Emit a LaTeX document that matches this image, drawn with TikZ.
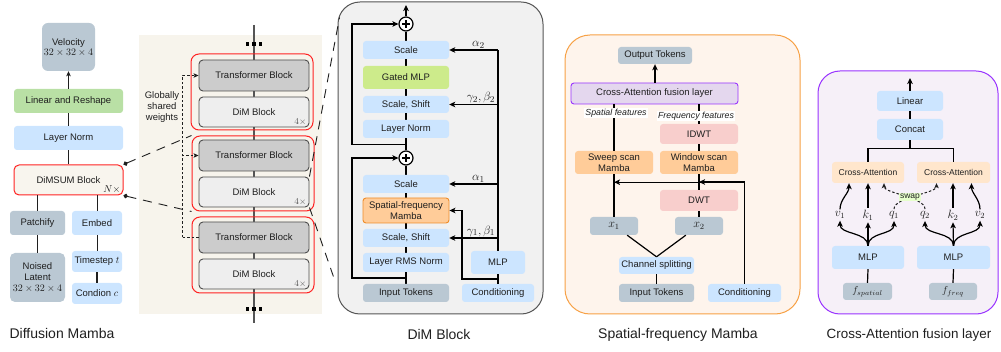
\documentclass[tikz,border=0pt]{standalone}
\usepackage[no-math]{fontspec}
\setmainfont{Liberation Sans}
\usetikzlibrary{arrows.meta,calc}
\pgfdeclarelayer{back}
\pgfdeclarelayer{bg}
\pgfsetlayers{back,bg,main}
\definecolor{lblue}{HTML}{CCE5FF}
\definecolor{gblue}{HTML}{BAC8D3}
\definecolor{lgreen}{HTML}{B9E0A5}
\definecolor{lime}{HTML}{CDEB8B}
\definecolor{orng}{HTML}{FFCC99}
\definecolor{orngd}{HTML}{F08C28}
\definecolor{pinkc}{HTML}{F8CECC}
\definecolor{peach}{HTML}{FFE6CC}
\definecolor{lav}{HTML}{E4D7EE}
\definecolor{purp}{HTML}{9933FF}
\definecolor{cream}{HTML}{F7F4EC}
\definecolor{cream2}{HTML}{F8F5EE}
\definecolor{redb}{HTML}{FF2222}
\definecolor{p3f}{HTML}{F1F1F1}
\definecolor{p3b}{HTML}{555555}
\definecolor{p4f}{HTML}{FEF4EC}
\definecolor{p4b}{HTML}{F7A145}
\definecolor{p5f}{HTML}{F6F0F8}
\definecolor{tbf}{HTML}{CCCCCC}
\definecolor{dmf}{HTML}{EEEEEE}
\definecolor{tbb}{HTML}{4D4D4D}
\definecolor{txt}{HTML}{1F1F1F}
\definecolor{gry}{HTML}{555555}
\definecolor{swapg}{HTML}{E6FFCC}
\newcommand{\bfnt}{\fontsize{9.5}{11}\selectfont}
\newcommand{\cafnt}{\fontsize{8.5}{10}\selectfont}
\newcommand{\ttlfnt}{\fontsize{14}{16}\selectfont}
\newcommand{\mfnt}{\fontsize{10}{12}\selectfont}
\newcommand{\vfnt}{\fontsize{12}{14}\selectfont}
\newcommand{\afnt}{\fontsize{13}{15}\selectfont}
\newcommand{\smfnt}{\fontsize{9.5}{11}\selectfont}
\newcommand{\mybox}[7]{\node[#6, minimum width={(#4-#2)*1pt}, minimum height={(#5-#3)*1pt}] (#1) at ({(#2+#4)/2},{(#3+#5)/2}) {#7};}
\tikzset{
  bx/.style={rounded corners=3pt, inner sep=1pt, align=center, font=\bfnt, text=txt},
  lb/.style={bx, fill=lblue},
  gb/.style={bx, fill=gblue},
  tbs/.style={bx, fill=tbf, draw=tbb, line width=0.9pt, rounded corners=4pt},
  dms/.style={bx, fill=dmf, draw=tbb, line width=0.9pt, rounded corners=4pt},
  grp/.style={draw=redb, line width=1pt, rounded corners=8pt},
  ln/.style={line width=1.2pt, draw=black},
  lnt/.style={line width=1pt, draw=txt},
  arr/.style={-{Stealth[length=6pt,width=5.5pt,inset=1.5pt]}},
  arrs/.style={-{Stealth[length=5pt,width=4.5pt,inset=1.2pt]}},
  ldash/.style={line width=0.9pt, draw=txt, dash pattern=on 9pt off 7pt},
  sdash/.style={line width=0.9pt, draw=txt, dash pattern=on 2.5pt off 2pt},
  plus/.style={circle, draw=black, fill=white, line width=1.2pt, minimum size=14pt, inner sep=0pt,
    path picture={\draw[line width=1.2pt] ([xshift=-3.6pt]path picture bounding box.center) -- ([xshift=3.6pt]path picture bounding box.center) ([yshift=-3.6pt]path picture bounding box.center) -- ([yshift=3.6pt]path picture bounding box.center);}},
  flab/.style={font=\fontsize{8.8}{10}\selectfont\itshape, fill=white, inner sep=1pt, text=txt},
  vl/.style={font=\vfnt, inner sep=2pt, text=txt},
  al/.style={font=\afnt, inner sep=1pt, text=txt},
  ttl/.style={font=\ttlfnt, text=txt},
}
\begin{document}
\begin{tikzpicture}[x=1pt,y=-1pt]
\useasboundingbox (0,0) rectangle (1001,352);
% ---------- panel backgrounds
\begin{pgfonlayer}{back}
\mybox{bg2}{139}{35}{322}{314}{fill=cream}{}
\mybox{p3}{338}{2}{543}{314}{draw=p3b, fill=p3f, rounded corners=22pt, line width=1pt}{}
\mybox{p4}{565}{35}{800}{314}{draw=p4b, fill=p4f, rounded corners=25pt, line width=1pt}{}
\mybox{p5}{818}{71}{998}{314}{draw=purp, fill=p5f, rounded corners=22pt, line width=1pt}{}
\end{pgfonlayer}
% ---------- panel 1: Diffusion Mamba
\mybox{vel}{42}{23}{95}{71}{gb, rounded corners=6pt}{Velocity\\[-1pt]{\mfnt$32\times32\times4$}}
\mybox{lr}{14}{89}{123}{113}{bx, fill=lgreen}{Linear and Reshape}
\mybox{lnA}{14}{126}{123}{150}{lb}{Layer Norm}
\mybox{dsum}{14}{165}{123}{195}{bx, fill=cream2, draw=redb, line width=1pt, rounded corners=5pt}{DiMSUM Block}
\node[anchor=south east, inner sep=0pt, font=\mfnt, text=txt] (nx) at ([shift={(-3,-2)}]dsum.south east) {$N\times$};
\mybox{patch}{10}{211}{65}{235}{gb}{Patchify}
\mybox{emb}{72}{211}{122}{235}{lb}{Embed}
\mybox{nl}{10}{253}{65}{302}{gb, rounded corners=5pt}{Noised\\Latent\\{\mfnt$32\times32\times4$}}
\mybox{ts}{72}{251}{122}{272}{lb}{Timestep {\mfnt$t$}}
\mybox{cd}{72}{283}{122}{304}{lb}{Condion {\mfnt$c$}}
\draw[lnt,arrs] (lr.north) -- (vel.south);
\draw[lnt] (lnA.north) -- (lr.south);
\draw[lnt] (dsum.north) -- (lnA.south);
\draw[lnt] (patch.north) -- (patch.north |- dsum.south);
\draw[lnt] (emb.north) -- (emb.north |- dsum.south);
\draw[lnt] (patch.south) -- (nl.north);
\draw[lnt] (emb.south) -- (ts.north);
\draw[lnt, line width=1.7pt] (ts.south) -- (cd.north);
\node[ttl] (t1) at (62,333) {Diffusion Mamba};
% ---------- panel 2
\coordinate (c2t) at (254,25);
\coordinate (c2b) at (254,323);
\begin{pgfonlayer}{bg}
\draw[line width=1.1pt, draw=gry] (c2t) -- (c2b);
\end{pgfonlayer}
\foreach \dx in {-6.5,0,6.5} {\fill[black] (254+\dx-1.8,42.2) rectangle ++(3.6,3.6); \fill[black] (254+\dx-1.8,307.2) rectangle ++(3.6,3.6);}
\mybox{g1}{191}{54}{313}{130}{grp}{}
\mybox{g2}{192}{136}{314}{211}{grp}{}
\mybox{g3}{192}{217}{314}{293}{grp}{}
\mybox{tb1}{199}{60}{309}{91}{tbs}{Transformer Block}
\mybox{dm1}{199}{97}{309}{127}{dms}{DiM Block}
\mybox{tb2}{199}{140}{309}{171}{tbs}{Transformer Block}
\mybox{dm2}{199}{177}{309}{207}{dms}{DiM Block}
\mybox{tb3}{199}{222}{309}{253}{tbs}{Transformer Block}
\mybox{dm3}{199}{259}{309}{289}{dms}{DiM Block}
\foreach \d in {dm1,dm2,dm3}{\node[anchor=south east, inner sep=0pt, font=\smfnt, text=gry] at ([shift={(-3,-2)}]\d.south east) {$4\times$};}
\coordinate (gs) at ([xshift=-16pt]tb3.west);
\draw[sdash] (tb3.west) -- (gs);
\draw[sdash,arrs] (gs) |- (tb1.west);
\draw[sdash,arrs] (gs) |- (tb2.west);
\node[font=\bfnt, align=center, text=txt, inner sep=0pt] (gsw) at (162,107) {Globally\\shared\\weights};
\draw[ldash, {Circle[length=4.5pt]}-] (dsum.north east) -- (g2.north west);
\draw[ldash, {Circle[length=4.5pt]}-] (dsum.south east) -- (g2.south west);
\draw[ldash] (dm2.north east) -- ($(p3.north west)+(2,16)$);
\draw[ldash] (dm2.south east) -- ($(p3.south west)+(-2,-32)$);
% ---------- panel 3: DiM Block
\node[plus] (pl1) at (406,24) {};
\mybox{sc2}{363}{41}{449}{59}{lb}{Scale}
\mybox{gm}{363}{66}{449}{89}{bx, fill=lime}{Gated MLP}
\mybox{ss2}{363}{96}{449}{113}{lb}{Scale, Shift}
\mybox{lnB}{363}{120}{449}{138}{lb}{Layer Norm}
\node[plus] (pl2) at (406,158) {};
\mybox{sc1}{363}{175}{449}{193}{lb}{Scale}
\mybox{sfm}{363}{198}{449}{223}{bx, fill=orng, draw=orngd, line width=0.9pt}{Spatial-frequency\\Mamba}
\mybox{ss1}{363}{229}{449}{247}{lb}{Scale, Shift}
\mybox{rms}{363}{253}{449}{272}{lb}{Layer RMS Norm}
\mybox{in3}{363}{284}{449}{302}{gb}{Input Tokens}
\mybox{mlp3}{471}{251}{525}{274}{lb}{MLP}
\mybox{cn3}{462}{284}{534}{302}{lb}{Conditioning}
\coordinate (top3) at (406,5);
\begin{pgfonlayer}{bg}
\draw[ln] (in3.north) -- (pl2.south);
\draw[ln] (pl2.north) -- (pl1.south);
\end{pgfonlayer}
\draw[ln,arr] (pl1.north) -- (top3);
\coordinate (k1) at ($(in3.north)!0.5!(rms.south)$);
\draw[ln,arr] (k1) -- ++(-54,0) |- (pl2.west);
\coordinate (k2) at ($(lnB.south)!0.5!(pl2.north)$);
\draw[ln,arr] (k2) -- ++(-54,0) |- (pl1.west);
\coordinate (r2) at (mlp3.north |- sc2.east);
\draw[ln] (mlp3.north) -- (r2);
\draw[ln,arr] (r2) -- node[above, pos=0.4, al] (la2) {$\alpha_2$} (sc2.east);
\draw[ln,arr] (mlp3.north |- ss2.east) -- node[above, pos=0.35, al] (lg2) {$\gamma_2,\beta_2$} (ss2.east);
\draw[ln,arr] (mlp3.north |- sc1.east) -- node[above, pos=0.4, al] (la1) {$\alpha_1$} (sc1.east);
\draw[ln,arr] (mlp3.north |- ss1.east) -- node[above, pos=0.35, al] (lg1) {$\gamma_1,\beta_1$} (ss1.east);
\draw[ln] (cn3.north) -- (mlp3.south);
\coordinate (k3) at ($(mlp3.south)!0.5!(cn3.north)$);
\draw[ln,arr] (k3) -- ++(-36,0) |- (sfm.east);
\node[ttl] (t3) at (439,334) {DiM Block};
% ---------- panel 4: Spatial-frequency Mamba
\mybox{out4}{618}{47}{692}{64}{gb}{Output Tokens}
\mybox{cafl}{571}{83}{738}{104}{bx, fill=lav, draw=purp, line width=0.9pt}{Cross-Attention fusion layer}
\mybox{idwt}{660}{124}{738}{144}{bx, fill=pinkc}{IDWT}
\mybox{sws}{575}{151}{653}{174}{bx, fill=orng}{Sweep scan\\Mamba}
\mybox{wns}{660}{151}{738}{174}{bx, fill=orng}{Window scan\\Mamba}
\mybox{dwt}{660}{190}{738}{211}{bx, fill=pinkc}{DWT}
\mybox{xa}{590}{217}{638}{235}{gb, font=\vfnt}{$x_1$}
\mybox{xb}{675}{217}{723}{235}{gb, font=\vfnt}{$x_2$}
\mybox{chs}{619}{257}{694}{274}{lb}{Channel splitting}
\mybox{in4}{619}{284}{694}{302}{gb}{Input Tokens}
\mybox{cn4}{708}{284}{781}{302}{lb}{Conditioning}
\draw[ln,arr] (out4.south |- cafl.north) -- (out4.south);
\draw[ln] (xa.north) -- (sws.south);
\draw[ln] (sws.north) -- (sws.north |- cafl.south);
\draw[ln] (xb.north) -- (dwt.south);
\draw[ln] (dwt.north) -- (wns.south);
\draw[ln] (wns.north) -- (idwt.south);
\draw[ln] (idwt.north) -- (idwt.north |- cafl.south);
\node[flab] (sfl) at (616,113) {Spatial features};
\node[flab] (ffl) at (696,116) {Frequency features};
\draw[ln,arr] (cn4.north) |- ($(wns.south)!0.5!(dwt.north)$);
\draw[ln,arr] (cn4.north) |- ($(sws.south)+(0,8)$);
\draw[ln] ([xshift=-11pt]xa.south east) -- (chs.north);
\draw[ln] ([xshift=11pt]xb.south west) -- (chs.north);
\draw[ln] (chs.south) -- (in4.north);
\node[ttl] (t4) at (678,335) {Spatial-frequency Mamba};
% ---------- panel 5: Cross-Attention fusion layer
\mybox{lin5}{877}{91}{943}{111}{lb}{Linear}
\mybox{cc5}{877}{119}{943}{140}{lb}{Concat}
\mybox{ca1}{832}{162}{904}{183}{bx, fill=peach, font=\cafnt}{Cross-Attention}
\mybox{ca2}{917}{162}{990}{183}{bx, fill=peach, font=\cafnt}{Cross-Attention}
\mybox{m1}{832}{246}{904}{269}{lb}{MLP}
\mybox{m2}{917}{246}{990}{269}{lb}{MLP}
\mybox{fs}{843}{283}{892}{300}{gb, font=\mfnt}{$f_{spatial}$}
\mybox{ff}{929}{283}{977}{300}{gb, font=\mfnt}{$f_{freq}$}
\node[vl] (v1) at (840,215) {$v_1$};
\node[vl] (kk1) at (868,215) {$k_1$};
\node[vl] (q1) at (894,215) {$q_1$};
\node[vl] (q2) at (925,215) {$q_2$};
\node[vl] (kk2) at (953,215) {$k_2$};
\node[vl] (v2) at (980,215) {$v_2$};
\coordinate (top5) at (910,78);
\draw[ln,arr] (lin5.north) -- (top5);
\draw[ln] (cc5.north) -- (lin5.south);
\draw[ln] (cc5.south) -- ++(0,8) -| (ca1.north);
\draw[ln] (cc5.south) -- ++(0,8) -| (ca2.north);
\draw[ln,arr] (kk1.north) -- (kk1.north |- ca1.south);
\draw[ln,arr] (kk2.north) -- (kk2.north |- ca2.south);
\draw[ln,arr] (v1.north) .. controls +(0,-10) and +(0,10) .. ([xshift=-19pt]ca1.south);
\draw[ln,arr] (v2.north) .. controls +(0,-10) and +(0,10) .. ([xshift=18pt]ca2.south);
\draw[sdash,arrs,line width=1pt] (q1.north) .. controls +(0,-12) and +(0,10) .. ([xshift=-17pt]ca2.south);
\draw[sdash,arrs,line width=1pt] (q2.north) .. controls +(0,-12) and +(0,10) .. ([xshift=16pt]ca1.south);
\node[fill=swapg, font=\fontsize{8.5}{10}\selectfont, inner sep=1pt, text=txt] (sw) at (910,197) {swap};
\draw[ln,arr] (m1.north) .. controls +(0,-14) and +(0,14) .. (v1.south);
\draw[ln,arr] (m1.north) -- (kk1.south);
\draw[ln,arr] (m1.north) .. controls +(0,-14) and +(0,14) .. (q1.south);
\draw[ln,arr] (m2.north) .. controls +(0,-14) and +(0,14) .. (q2.south);
\draw[ln,arr] (m2.north) -- (kk2.south);
\draw[ln,arr] (m2.north) .. controls +(0,-14) and +(0,14) .. (v2.south);
\draw[ln] (fs.north) -- (m1.south);
\draw[ln] (ff.north) -- (m2.south);
\node[ttl, font=\fontsize{13.4}{16}\selectfont] (t5) at (909,335) {Cross-Attention fusion layer};
\end{tikzpicture}
\end{document}
